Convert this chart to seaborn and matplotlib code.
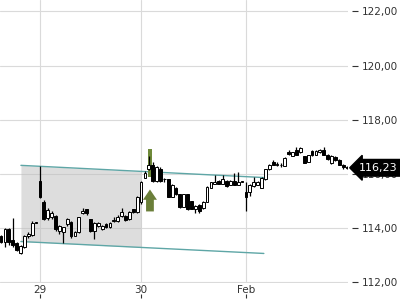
import numpy as np
import pandas as pd
import seaborn as sns
import matplotlib
matplotlib.use("Agg")
import matplotlib.pyplot as plt
from matplotlib.ticker import FuncFormatter
from matplotlib.transforms import blended_transform_factory

# ---------------- data ----------------
opens = [113.70, 113.50, 113.97, 113.55, 113.45, 113.10, 113.30, 113.70, 113.75, 114.20,
         115.76, 114.95, 114.36, 114.40, 114.44, 113.88, 113.85, 114.14, 114.22, 113.73,
         113.85, 114.55, 114.70, 114.33, 113.90, 114.10, 113.98, 114.17, 114.05, 114.28,
         114.25, 114.45, 114.45, 114.33, 114.70, 114.60,
         114.95, 115.87, 116.17, 116.32, 115.73, 116.20, 115.80, 115.80, 115.17, 115.50,
         115.25, 114.80, 115.25, 115.00, 114.70, 114.85, 114.75, 114.97, 115.50, 115.65,
         115.75, 115.65, 115.75, 115.60, 115.75, 115.60, 115.72,
         115.32, 115.35, 115.55, 115.60, 115.50, 115.80, 116.17, 116.45, 116.35, 116.32,
         116.30, 116.82, 116.67, 116.90, 116.80, 116.65, 116.45, 116.85, 116.72, 116.80,
         116.88, 116.72, 116.40, 116.62, 116.52, 116.35, 116.27]
highs = [113.75, 114.00, 114.00, 114.36, 113.50, 113.40, 113.75, 113.85, 114.28, 114.22,
         116.28, 115.05, 114.75, 114.62, 114.48, 114.12, 114.05, 114.36, 114.25, 113.90,
         114.42, 114.76, 114.72, 114.35, 114.22, 114.22, 114.12, 114.20, 114.22, 114.40,
         114.50, 114.73, 114.50, 114.62, 114.72, 115.20,
         115.75, 116.10, 116.65, 116.45, 116.30, 116.25, 115.85, 115.82, 115.62, 115.52,
         115.27, 115.27, 115.27, 115.02, 114.85, 114.88, 115.00, 115.55, 115.72, 115.95,
         115.78, 115.95, 115.78, 115.78, 116.05, 116.08, 115.74,
         115.70, 115.62, 115.90, 115.75, 115.88, 116.20, 116.38, 116.50, 116.45, 116.40,
         116.62, 116.90, 116.82, 116.98, 117.00, 116.68, 116.72, 116.88, 116.88, 116.92,
         117.00, 116.75, 116.70, 116.68, 116.55, 116.38, 116.30]
lows = [113.45, 113.30, 113.40, 113.30, 113.15, 113.05, 113.28, 113.65, 113.70, 114.18,
        115.10, 114.30, 114.30, 114.35, 113.90, 113.80, 113.45, 114.10, 113.65, 113.70,
        113.82, 114.52, 114.50, 113.85, 113.60, 114.05, 113.95, 114.00, 114.02, 114.22,
        114.22, 114.42, 114.28, 114.30, 114.58, 114.58,
        114.90, 115.85, 116.15, 115.70, 115.70, 115.72, 115.70, 115.15, 115.15, 115.22,
        114.75, 114.78, 114.68, 114.70, 114.58, 114.55, 114.72, 114.95, 115.48, 115.62,
        115.62, 115.62, 115.52, 115.58, 115.58, 115.58, 115.70,
        114.62, 115.20, 115.52, 115.58, 115.48, 115.78, 116.15, 116.33, 116.28, 116.25,
        116.28, 116.72, 116.65, 116.70, 116.78, 116.40, 116.43, 116.68, 116.70, 116.78,
        116.70, 116.52, 116.38, 116.48, 116.33, 116.20, 116.20]
closes = [113.50, 113.97, 113.48, 113.40, 113.20, 113.35, 113.72, 113.80, 114.20, 114.22,
          115.17, 114.33, 114.66, 114.58, 113.96, 114.10, 114.03, 114.33, 113.70, 113.87,
          114.40, 114.65, 114.55, 113.88, 114.20, 114.20, 114.10, 114.03, 114.20, 114.30,
          114.40, 114.60, 114.30, 114.60, 114.60, 115.17,
          115.70, 116.05, 116.35, 115.73, 116.25, 115.76, 115.82, 115.17, 115.60, 115.25,
          114.77, 115.25, 114.70, 114.72, 114.82, 114.65, 114.97, 115.53, 115.70, 115.70,
          115.65, 115.80, 115.55, 115.75, 115.60, 115.72, 115.72,
          115.14, 115.60, 115.70, 115.70, 115.85, 116.17, 116.35, 116.35, 116.37, 116.34,
          116.60, 116.75, 116.80, 116.72, 116.95, 116.42, 116.70, 116.70, 116.85, 116.90,
          116.72, 116.55, 116.68, 116.50, 116.35, 116.25, 116.23]

day_labels = ["29", "30", "Feb"]
day_start_index = [10, 36, 63]

y_ticks = [112, 114, 116, 118, 120, 122]
last_price = 116.23

# trend channel (start/end bar index, prices)
channel_x = [5.1, 67.6]
channel_upper = [116.32, 115.87]
channel_lower = [113.51, 113.07]
shade_end_x = 36.0

# signal marks
signal_x = 38.3
arrow_base, arrow_tip = 114.62, 115.43
signal_bar_low, signal_bar_high = 115.88, 116.94

# ---------------- style ----------------
sns.set_theme(style="whitegrid")
plt.rcParams['font.family'] = ['DejaVu Sans']
plt.rcParams.update({
    "grid.color": "#dadada",
    "grid.linewidth": 0.8,
})

df = pd.DataFrame({"o": opens, "h": highs, "l": lows, "c": closes})
df["i"] = np.arange(len(df))

fig = plt.figure(figsize=(4, 3), dpi=100)
ax = fig.add_axes([0, 17 / 300, 348 / 400, 283 / 300])
ax.set_facecolor("white")
for s in ax.spines.values():
    s.set_visible(False)

ax.set_xlim(-0.28, 89.25)
ax.set_ylim(111.98, 122.42)
ax.grid(True, zorder=0)
ax.set_axisbelow(True)

# shaded channel
sx = np.array([channel_x[0], shade_end_x])
slope_u = (channel_upper[1] - channel_upper[0]) / (channel_x[1] - channel_x[0])
slope_l = (channel_lower[1] - channel_lower[0]) / (channel_x[1] - channel_x[0])
su = channel_upper[0] + slope_u * (sx - channel_x[0])
sl = channel_lower[0] + slope_l * (sx - channel_x[0])
ax.fill_between(sx, sl, su, color="#bdbdbd", alpha=0.5, lw=0, zorder=1)

ch = pd.DataFrame({"x": channel_x * 2,
                   "p": channel_upper + channel_lower,
                   "line": ["upper", "upper", "lower", "lower"]})
sns.lineplot(data=ch, x="x", y="p", units="line", estimator=None,
             color="#5ea6a6", lw=1.0, ax=ax, zorder=2, legend=False)

# green signal bar and arrow
ax.bar([signal_x], [signal_bar_high - signal_bar_low], bottom=[signal_bar_low],
       width=1.0, color="#6f8a3a", zorder=2, lw=0)
head_h = 0.38
ax.fill([signal_x - 1.8, signal_x, signal_x + 1.8, signal_x + 1.0, signal_x + 1.0,
         signal_x - 1.0, signal_x - 1.0],
        [arrow_tip - head_h, arrow_tip, arrow_tip - head_h, arrow_tip - head_h,
         arrow_base, arrow_base, arrow_tip - head_h],
        color="#6b7f3a", lw=0, zorder=2)

# candles
ax.vlines(df["i"], df["l"], df["h"], color="black", lw=0.9, zorder=3)
up = df["c"] >= df["o"]
body_low = np.minimum(df["o"], df["c"])
body_h = np.maximum(np.abs(df["c"] - df["o"]), 0.02)
ax.bar(df["i"], body_h, bottom=body_low, width=0.72,
       color=np.where(up, "white", "black"), edgecolor="black",
       linewidth=0.7, zorder=4)

# axis ticks / labels (after seaborn so its labels are cleared)
ax.set_xlabel("")
ax.set_ylabel("")
ax.set_xlim(-0.28, 89.25)
ax.set_ylim(111.98, 122.42)
ax.set_yticks(y_ticks)
ax.set_xticks(day_start_index)
ax.set_xticklabels(day_labels, fontsize=7.5, color="#333333")
ax.tick_params(axis="x", length=0, pad=1.5)
ax.tick_params(axis="y", length=0, labelleft=False, labelright=False)

# right y axis labels with detached dash ticks
fmt = FuncFormatter(lambda v, p: f"{v:.2f}".replace(".", ","))
sec = ax.secondary_yaxis(1 + 4 / 348)
sec.set_yticks(y_ticks)
sec.yaxis.set_major_formatter(fmt)
sec.tick_params(axis="y", length=4, width=0.8, color="#333333", pad=3,
                labelsize=7.5, labelcolor="#333333")
for s in sec.spines.values():
    s.set_visible(False)

# x tick marks below labels
secx = ax.secondary_xaxis(-(294 - 283) / 283)
secx.set_xticks(day_start_index)
secx.set_xticklabels([])
secx.tick_params(axis="x", length=3, width=0.8, color="#333333")
for s in secx.spines.values():
    s.set_visible(False)

# last price tag
tr = blended_transform_factory(fig.transFigure, ax.transData)
fig.text(359 / 400, last_price, f"{last_price:.2f}".replace(".", ","),
         transform=tr, ha="left", va="center", fontsize=8, color="white",
         bbox=dict(boxstyle="larrow,pad=0.3", fc="black", ec="black"), zorder=10)

fig.savefig("out.png", dpi=100)
